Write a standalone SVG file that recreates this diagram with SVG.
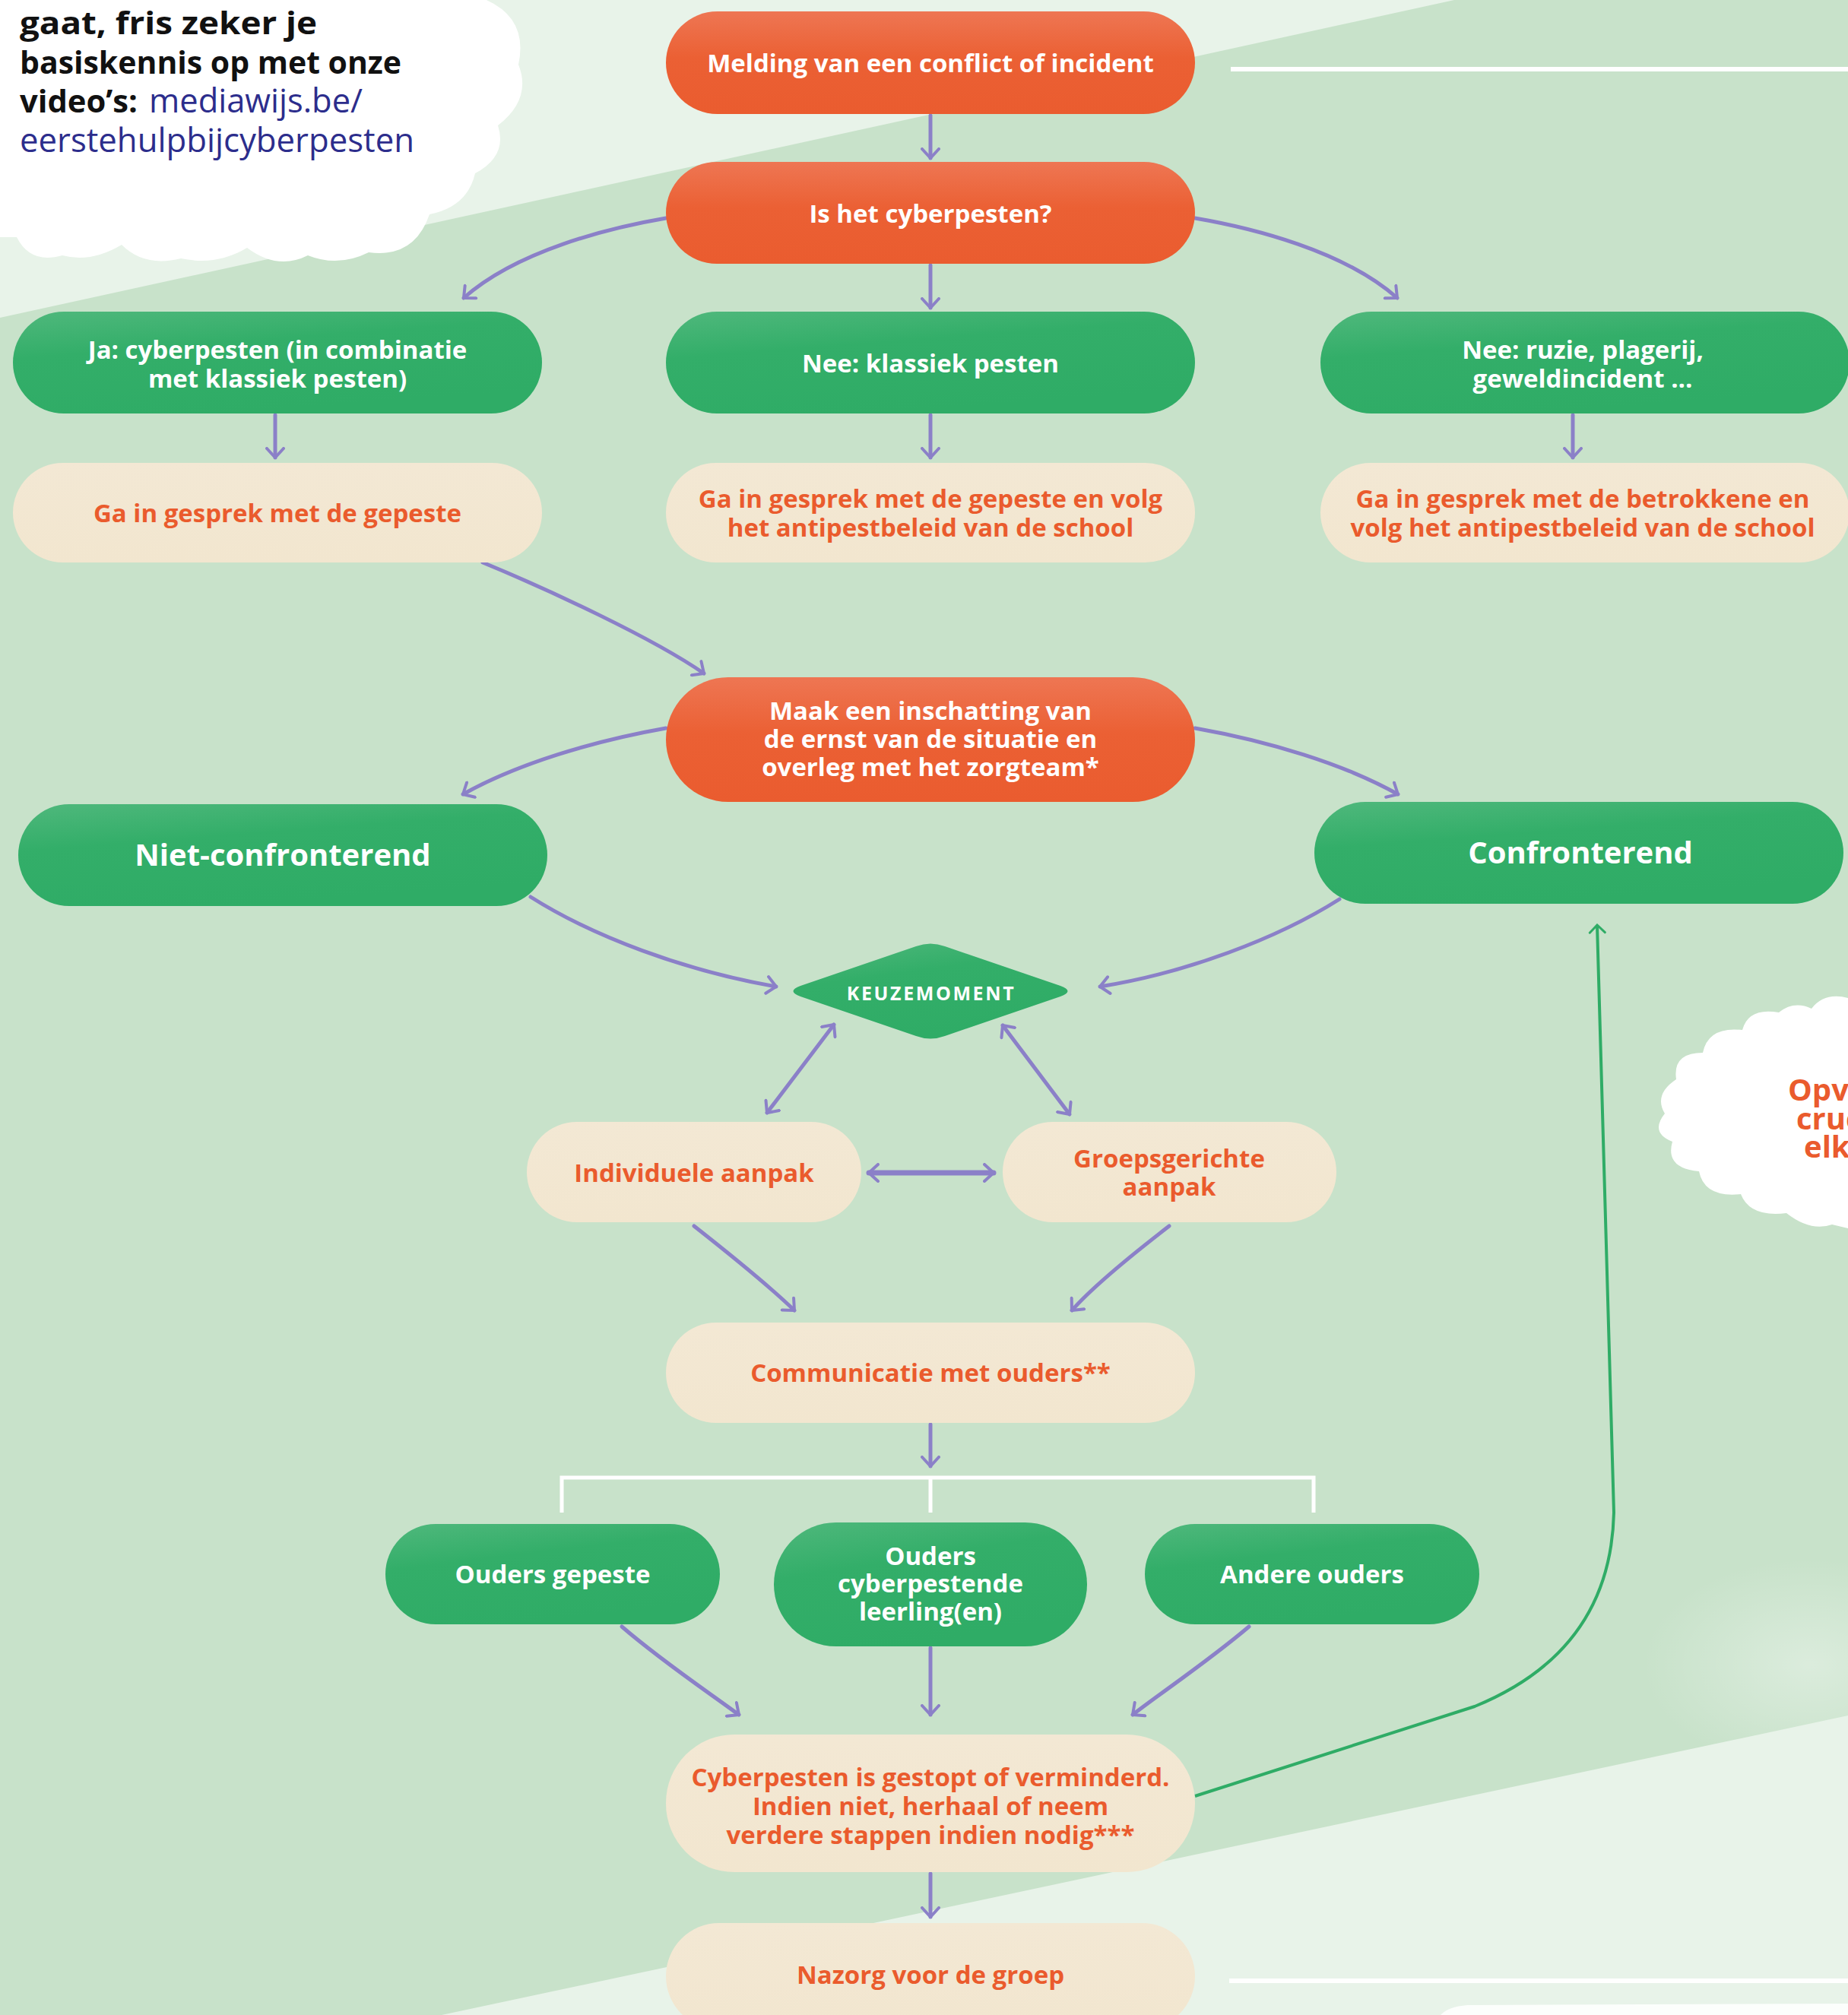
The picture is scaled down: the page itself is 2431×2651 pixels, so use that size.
<svg xmlns="http://www.w3.org/2000/svg" width="2431" height="2651" viewBox="0 0 2431 2651">
<style>
.tw{font-family:"Open Sans","Liberation Sans",sans-serif;font-weight:700;font-size:33px;fill:#ffffff;text-anchor:middle}
.to{font-family:"Open Sans","Liberation Sans",sans-serif;font-weight:700;font-size:33px;fill:#ea5b2d;text-anchor:middle}
.big{font-size:40px}
.ko{fill:url(#gO)}
.kg{fill:url(#gG)}
.kb{fill:url(#gB)}
.c{fill:none;stroke:#8b80c8;stroke-width:5;stroke-linecap:round;marker-end:url(#ah)}
.c2{fill:none;stroke:#8b80c8;stroke-width:5;stroke-linecap:round;marker-end:url(#ah);marker-start:url(#ah)}
.cloudt{font-family:"Open Sans","Liberation Sans",sans-serif;font-weight:700;font-size:41px;fill:#111111}
.link{fill:#2c2d8c;font-weight:400;font-size:43px}
.cl{font-family:"Open Sans","Liberation Sans",sans-serif;font-weight:700;font-size:40px;fill:#ea5b2d}
</style>
<defs>
<linearGradient id="gO" x1="0" y1="0" x2="0" y2="1">
<stop offset="0" stop-color="#ee7653"/><stop offset="0.45" stop-color="#eb6034"/><stop offset="1" stop-color="#ea5c2f"/>
</linearGradient>
<linearGradient id="gG" x1="0" y1="0" x2="0.4" y2="1">
<stop offset="0" stop-color="#4fb87c"/><stop offset="0.4" stop-color="#33ae69"/><stop offset="1" stop-color="#2fac66"/>
</linearGradient>
<linearGradient id="gB" x1="0" y1="0" x2="0" y2="1">
<stop offset="0" stop-color="#f3e8d4"/><stop offset="1" stop-color="#f2e6cf"/>
</linearGradient>
<radialGradient id="haze" cx="0.5" cy="0.5" r="0.5">
<stop offset="0" stop-color="#ffffff" stop-opacity="0.35"/><stop offset="1" stop-color="#ffffff" stop-opacity="0"/>
</radialGradient>
<marker id="ah" markerUnits="userSpaceOnUse" viewBox="0 0 16 26" refX="14" refY="13" markerWidth="16" markerHeight="26" orient="auto-start-reverse">
<path d="M2,2 L14,13 L2,24" fill="none" stroke="#8b80c8" stroke-width="4" stroke-linecap="round" stroke-linejoin="round"/>
</marker>
<marker id="ahg" markerUnits="userSpaceOnUse" viewBox="0 0 14 24" refX="12" refY="12" markerWidth="14" markerHeight="24" orient="auto">
<path d="M2,2 L12,12 L2,22" fill="none" stroke="#2fac66" stroke-width="3" stroke-linecap="round"/>
</marker>
</defs>

<g id="background">
<rect x="0" y="0" width="2431" height="2651" fill="#c8e2ca"/>
<path d="M0,0 L1913,0 L0,418 Z" fill="#e8f3e9"/>
<ellipse cx="2380" cy="2190" rx="220" ry="140" fill="url(#haze)"/>
<path d="M2431,2257 L2431,2651 L581,2651 Z" fill="#e8f3e9"/>
<line x1="1619" y1="91" x2="2431" y2="91" stroke="#ffffff" stroke-width="6"/>
<line x1="1617" y1="2606" x2="2431" y2="2606" stroke="#ffffff" stroke-width="6"/>
<path d="M1895,2651 Q1905,2640 1930,2638 L2431,2636 L2431,2651 Z" fill="#ffffff" opacity="0.85"/>
</g>

<g id="cloud-left">
<path d="M0,0 L640,0 Q695,25 682,85 Q700,130 655,165 Q668,205 625,228 Q615,272 565,282 Q545,340 485,332 Q445,352 405,336 Q365,356 325,326 Q285,350 238,340 Q190,352 160,322 Q120,346 82,336 Q40,348 22,312 L0,312 Z" fill="#ffffff"/>
<text class="cloudt" x="26" y="45"><tspan x="26" y="45" textLength="391" lengthAdjust="spacingAndGlyphs">gaat, fris zeker je</tspan><tspan x="26" y="97" textLength="502" lengthAdjust="spacingAndGlyphs">basiskennis op met onze</tspan><tspan x="26" y="148" textLength="155" lengthAdjust="spacingAndGlyphs">video’s:</tspan><tspan class="link" x="196" y="148" textLength="281" lengthAdjust="spacingAndGlyphs">mediawijs.be/</tspan><tspan class="link" x="26" y="200" textLength="519" lengthAdjust="spacingAndGlyphs">eerstehulpbijcyberpesten</tspan></text>
</g>

<g id="cloud-right">
<path d="M2431,1313 Q2400,1305 2383,1327 Q2360,1316 2340,1332 Q2300,1325 2292,1355 Q2247,1350 2240,1385 Q2200,1385 2205,1420 Q2175,1440 2190,1465 Q2170,1490 2200,1502 Q2190,1537 2235,1541 Q2242,1576 2290,1571 Q2302,1602 2350,1596 Q2382,1621 2410,1611 L2431,1616 Z" fill="#ffffff"/>
<text class="cl" x="2352" y="1448"><tspan x="2352" y="1448">Opv</tspan><tspan x="2363" y="1486">cruc</tspan><tspan x="2373" y="1523">elk</tspan></text>
</g>

<g id="connectors">
<path class="c" d="M1224,152 L1224,208"/>
<path class="c" d="M876,287 C800,300 680,330 610,392"/>
<path class="c" d="M1224,349 L1224,405"/>
<path class="c" d="M1572,287 C1648,300 1768,330 1838,392"/>
<path class="c" d="M362,546 L362,602"/>
<path class="c" d="M1224,546 L1224,602"/>
<path class="c" d="M2069,546 L2069,602"/>
<path class="c" d="M635,740 C720,775 860,840 926,886"/>
<path class="c" d="M876,958 C780,975 680,1005 609,1045"/>
<path class="c" d="M1572,958 C1668,975 1768,1005 1839,1045"/>
<path class="c" d="M698,1180 C780,1232 900,1277 1021,1298"/>
<path class="c" d="M1762,1183 C1680,1235 1560,1280 1447,1298"/>
<path class="c2" d="M1097,1348 L1009,1464"/>
<path class="c2" d="M1319,1349 L1407,1466"/>
<path class="c2" d="M1143,1543 L1307,1543" style="stroke-width:7"/>
<path class="c" d="M913,1613 C960,1650 1010,1690 1045,1724"/>
<path class="c" d="M1538,1613 C1490,1650 1440,1690 1410,1724"/>
<path class="c" d="M1224,1874 L1224,1929"/>
<path d="M739,1990 L739,1944 L1728,1944 L1728,1990 M1224,1944 L1224,1990" fill="none" stroke="#ffffff" stroke-width="5"/>
<path class="c" d="M818,2140 C870,2185 930,2225 972,2256"/>
<path class="c" d="M1224,2168 L1224,2256"/>
<path class="c" d="M1643,2140 C1590,2185 1530,2225 1490,2256"/>
<path class="c" d="M1224,2465 L1224,2522"/>
<path d="M1572,2363 L1940,2245 C2050,2200 2120,2120 2123,1990 L2101,1217" fill="none" stroke="#2fac66" stroke-width="4" marker-end="url(#ahg)"/>
</g>

<g id="n-melding">
<rect class="ko" x="876" y="15" width="696" height="135" rx="67.5"/>
<text class="tw" x="1224" y="95">Melding van een conflict of incident</text>
</g>
<g id="n-ishet">
<rect class="ko" x="876" y="213" width="696" height="134" rx="67"/>
<text class="tw" x="1224" y="293">Is het cyberpesten?</text>
</g>
<g id="n-ja">
<rect class="kg" x="17" y="410" width="696" height="134" rx="67"/>
<text class="tw" x="365" y="472"><tspan x="365" y="472">Ja: cyberpesten (in combinatie</tspan><tspan x="365" y="510">met klassiek pesten)</tspan></text>
</g>
<g id="n-klassiek">
<rect class="kg" x="876" y="410" width="696" height="134" rx="67"/>
<text class="tw" x="1224" y="490">Nee: klassiek pesten</text>
</g>
<g id="n-ruzie">
<rect class="kg" x="1737" y="410" width="696" height="134" rx="67"/>
<text class="tw" x="2082" y="472"><tspan x="2082" y="472">Nee: ruzie, plagerij,</tspan><tspan x="2082" y="510">geweldincident ...</tspan></text>
</g>
<g id="n-gesprek1">
<rect class="kb" x="17" y="609" width="696" height="131" rx="65.5"/>
<text class="to" x="365" y="687">Ga in gesprek met de gepeste</text>
</g>
<g id="n-gesprek2">
<rect class="kb" x="876" y="609" width="696" height="131" rx="65.5"/>
<text class="to" x="1224" y="668"><tspan x="1224" y="668">Ga in gesprek met de gepeste en volg</tspan><tspan x="1224" y="706">het antipestbeleid van de school</tspan></text>
</g>
<g id="n-gesprek3">
<rect class="kb" x="1737" y="609" width="696" height="131" rx="65.5"/>
<text class="to" x="2082" y="668"><tspan x="2082" y="668">Ga in gesprek met de betrokkene en</tspan><tspan x="2082" y="706">volg het antipestbeleid van de school</tspan></text>
</g>
<g id="n-inschatting">
<rect class="ko" x="876" y="891" width="696" height="164" rx="82"/>
<text class="tw" x="1224" y="947"><tspan x="1224" y="947">Maak een inschatting van</tspan><tspan x="1224" y="984">de ernst van de situatie en</tspan><tspan x="1224" y="1021">overleg met het zorgteam*</tspan></text>
</g>
<g id="n-niet">
<rect class="kg" x="24" y="1058" width="696" height="134" rx="67"/>
<text class="tw big" x="372" y="1139">Niet-confronterend</text>
</g>
<g id="n-conf">
<rect class="kg" x="1729" y="1055" width="696" height="134" rx="67"/>
<text class="tw big" x="2079" y="1136">Confronterend</text>
</g>
<g id="n-keuze">
<path d="M1053,1297 L1205,1245 Q1224,1238 1243,1245 L1395,1297 Q1414,1304 1395,1311 L1243,1363 Q1224,1370 1205,1363 L1053,1311 Q1034,1304 1053,1297 Z" fill="url(#gG)"/>
<text class="tw" x="1225" y="1316" style="font-size:25px;letter-spacing:2.6px">KEUZEMOMENT</text>
</g>
<g id="n-indiv">
<rect class="kb" x="693" y="1476" width="440" height="132" rx="66"/>
<text class="to" x="913" y="1555">Individuele aanpak</text>
</g>
<g id="n-groep">
<rect class="kb" x="1319" y="1476" width="439" height="132" rx="66"/>
<text class="to" x="1538" y="1536"><tspan x="1538" y="1536">Groepsgerichte</tspan><tspan x="1538" y="1573">aanpak</tspan></text>
</g>
<g id="n-comm">
<rect class="kb" x="876" y="1740" width="696" height="132" rx="66"/>
<text class="to" x="1224" y="1818">Communicatie met ouders**</text>
</g>
<g id="n-ouders-gepeste">
<rect class="kg" x="507" y="2005" width="440" height="132" rx="66"/>
<text class="tw" x="727" y="2083">Ouders gepeste</text>
</g>
<g id="n-ouders-cyber">
<rect class="kg" x="1018" y="2003" width="412" height="163" rx="81.5"/>
<text class="tw" x="1224" y="2059"><tspan x="1224" y="2059">Ouders</tspan><tspan x="1224" y="2095">cyberpestende</tspan><tspan x="1224" y="2132">leerling(en)</tspan></text>
</g>
<g id="n-andere">
<rect class="kg" x="1506" y="2005" width="440" height="132" rx="66"/>
<text class="tw" x="1726" y="2083">Andere ouders</text>
</g>
<g id="n-gestopt">
<rect class="kb" x="876" y="2282" width="696" height="181" rx="90"/>
<text class="to" x="1224" y="2350"><tspan x="1224" y="2350">Cyberpesten is gestopt of verminderd.</tspan><tspan x="1224" y="2388">Indien niet, herhaal of neem</tspan><tspan x="1224" y="2426">verdere stappen indien nodig***</tspan></text>
</g>
<g id="n-nazorg">
<rect class="kb" x="876" y="2530" width="696" height="140" rx="70"/>
<text class="to" x="1224" y="2610">Nazorg voor de groep</text>
</g>
</svg>
